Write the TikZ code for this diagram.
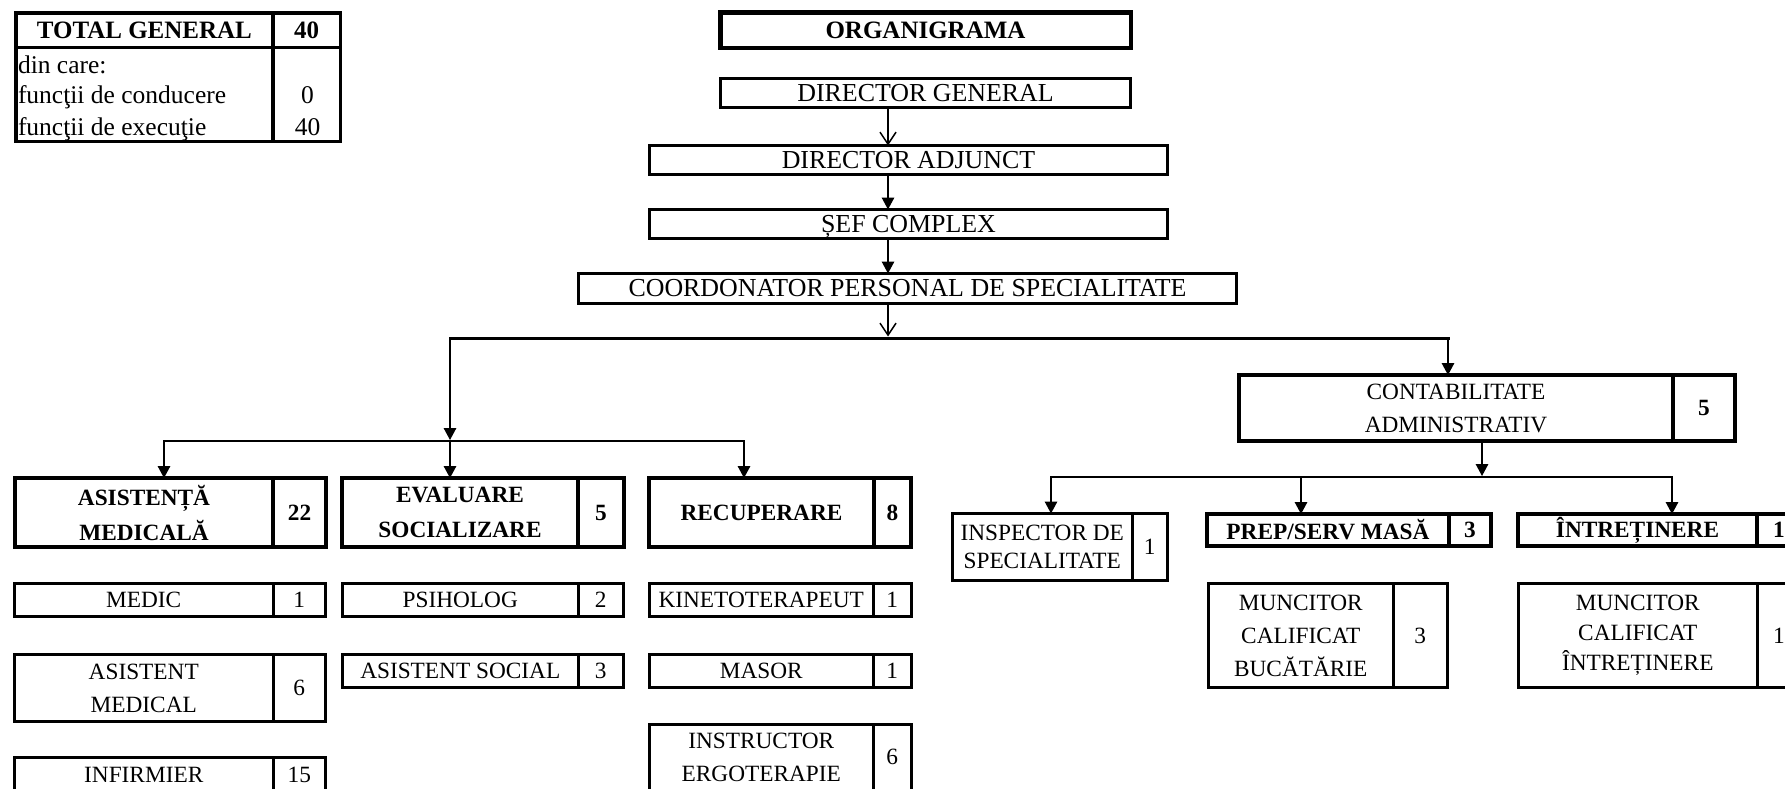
\documentclass[tikz,border=0pt]{standalone}
\usepackage{fontspec}
\setmainfont{Liberation Serif}
\usetikzlibrary{arrows.meta}
\newcommand\fsA{\fontsize{25.9}{31}\selectfont}
\newcommand\fsT{\fontsize{25.5}{31}\selectfont}
\newcommand\fsB{\fontsize{23.3}{33}\selectfont}
\newcommand\fsH{\fontsize{23.3}{35}\selectfont\bfseries}
\tikzset{
 cell/.style={draw, inner sep=0pt, outer sep=0pt, align=center},
 thinbox/.style={cell, line width=3pt, font=\fsB},
 thickbox/.style={cell, line width=4.5pt, font=\fsH},
 plainthick/.style={cell, line width=4.5pt, font=\fsB},
 topbox/.style={cell, line width=3pt, font=\fsA},
 tabhead/.style={cell, line width=3.5pt, font=\fontsize{25}{30}\selectfont\bfseries},
 tabbody/.style={cell, line width=3.5pt, font=\fsT},
 tabtxt/.style={inner sep=0pt, outer sep=0pt, font=\fsT},
 conn/.style={line width=1.5pt},
 mainline/.style={line width=3pt, line cap=rect},
 harrow/.style={conn, -{Triangle[length=12pt,width=12.5pt]}},
 oarrow/.style={conn, -{Straight Barb[length=12pt,width=16pt]}},
}
% name, x1, xdiv, x2, y1, y2, text, number, style
\newcommand\nbox[9]{%
 \pgfmathsetmacro\nbwa{#3-#2}\pgfmathsetmacro\nbwb{#4-#3}\pgfmathsetmacro\nbhh{#6-#5}%
 \pgfmathsetmacro\nbca{(#2+#3)/2}\pgfmathsetmacro\nbcb{(#3+#4)/2}\pgfmathsetmacro\nbcy{(#5+#6)/2}%
 \node[#9, minimum width=\nbwa pt, minimum height=\nbhh pt] (#1) at (\nbca,\nbcy) {#7};
 \node[#9, minimum width=\nbwb pt, minimum height=\nbhh pt] (#1n) at (\nbcb,\nbcy) {#8};
}
\begin{document}
\begin{tikzpicture}[x=1pt,y=-1pt]
\useasboundingbox (0,0) rectangle (1785,788);
\clip (0,0) rectangle (1785,788);
\fill[white] (0,0) rectangle (1785,788);

% summary table
\nbox{tg}{15.75}{273}{340.25}{12.75}{47.5}{TOTAL GENERAL}{40}{tabhead}
\nbox{tgb}{15.75}{273}{340.25}{47.5}{141.25}{}{}{tabbody}
\node[tabtxt, anchor=base west] (t1) at (18,73) {din care:};
\node[tabtxt, anchor=base west] (t2) at (18,103.5) {funcţii de conducere};
\node[tabtxt, anchor=base west] (t3) at (18,135) {funcţii de execuţie};
\node[tabtxt, anchor=base] (t2n) at (307.5,103.5) {0};
\node[tabtxt, anchor=base] (t3n) at (307.5,135) {40};

% top chain
\node[cell, line width=4.5pt, font=\fontsize{25}{30}\selectfont\bfseries, minimum width=410.5pt, minimum height=35.5pt] (org) at (925.5,30) {ORGANIGRAMA};
\node[topbox, minimum width=410pt, minimum height=29pt] (dg) at (925.5,93) {DIRECTOR GENERAL};
\node[topbox, minimum width=518pt, minimum height=29pt] (da) at (908.5,160) {DIRECTOR ADJUNCT};
\node[topbox, minimum width=518pt, minimum height=29pt, text depth=0pt] (sef) at (908.5,224) {ȘEF COMPLEX};
\node[topbox, minimum width=658pt, minimum height=30pt] (coord) at (907.5,288.5) {COORDONATOR PERSONAL DE SPECIALITATE};

% left group
\nbox{asist}{15}{273}{326}{478}{547}{ASISTENȚĂ\\MEDICALĂ}{22}{thickbox}
\nbox{eval}{342}{578}{624}{478}{547}{EVALUARE\\SOCIALIZARE}{5}{thickbox}
\nbox{recup}{649}{874}{911}{478}{547}{RECUPERARE}{8}{thickbox}
\nbox{medic}{14.5}{273}{325.5}{583.5}{616.5}{MEDIC}{1}{thinbox}
\nbox{asmed}{14.5}{273}{325.5}{654.5}{721.5}{ASISTENT\\MEDICAL}{6}{thinbox}
\nbox{infirm}{14.5}{273}{325.5}{757.5}{791.5}{INFIRMIER}{15}{thinbox}
\nbox{psih}{342.5}{578}{623.5}{583.5}{616.5}{PSIHOLOG}{2}{thinbox}
\nbox{assoc}{342.5}{578}{623.5}{654.5}{687.5}{ASISTENT SOCIAL}{3}{thinbox}
\nbox{kineto}{649.5}{873}{911.5}{583.5}{616.5}{KINETOTERAPEUT}{1}{thinbox}
\nbox{masor}{649.5}{873}{911.5}{654.5}{687.5}{MASOR}{1}{thinbox}
\nbox{instr}{649.5}{873}{911.5}{724.5}{790}{INSTRUCTOR\\ERGOTERAPIE}{6}{thinbox}

% right group
\nbox{contab}{1239}{1673}{1735}{375}{441}{CONTABILITATE\\ADMINISTRATIV}{\bfseries 5}{plainthick}
\nbox{insp}{952.5}{1132}{1167.5}{513.5}{580.5}{INSPECTOR DE\\SPECIALITATE}{1}{thinbox, font=\fontsize{23.3}{28}\selectfont}
\nbox{prep}{1207}{1449}{1491}{514}{546}{PREP/SERV MASĂ}{3}{thickbox}
\nbox{mcb}{1208.5}{1393}{1447.5}{583.5}{687.5}{MUNCITOR\\CALIFICAT\\BUCĂTĂRIE}{3}{thinbox}
\nbox{intr}{1518}{1757}{1801}{514}{546}{ÎNTREȚINERE}{1}{thickbox}
\nbox{mci}{1518.5}{1757}{1801}{583.5}{687.5}{MUNCITOR\\CALIFICAT\\ÎNTREȚINERE}{1}{thinbox, font=\fontsize{23.3}{30}\selectfont}

% connectors: top chain
\coordinate (ax) at (888,0);
\draw[oarrow] (dg.south -| ax) -- (da.north -| ax);
\draw[harrow] (da.south -| ax) -- (sef.north -| ax);
\draw[harrow] (sef.south -| ax) -- (coord.north -| ax);

% main distribution line
\coordinate (mL) at (450,338);
\coordinate (mC) at (888,338);
\coordinate (mR) at (1448,338);
\draw[oarrow, shorten >=1.5pt] (coord.south -| ax) -- (mC);
\draw[mainline] (mL) -- (mR);
\coordinate (sA) at (164,441);
\coordinate (sE) at (450,441);
\coordinate (sR) at (744,441);
\draw[harrow, shorten >=1pt] (mL) -- (sE);
\draw[harrow] (mR) -- (mR |- contab.north);

% left sub-line
\draw[conn, line cap=rect] (sA) -- (sR);
\draw[harrow] (sA) -- (sA |- asist.north);
\draw[harrow] (sE) -- (sE |- eval.north);
\draw[harrow] (sR) -- (sR |- recup.north);

% right sub-line
\coordinate (cD) at (1482,477);
\coordinate (cI) at (1051,477);
\coordinate (cP) at (1301,477);
\coordinate (cT) at (1672,477);
\draw[harrow, shorten >=1pt] (contab.south -| cD) -- (cD);
\draw[conn, line cap=rect] (cI) -- (cT);
\draw[harrow] (cI) -- (cI |- insp.north);
\draw[harrow] (cP) -- (cP |- prep.north);
\draw[harrow] (cT) -- (cT |- intr.north);
\end{tikzpicture}
\end{document}
